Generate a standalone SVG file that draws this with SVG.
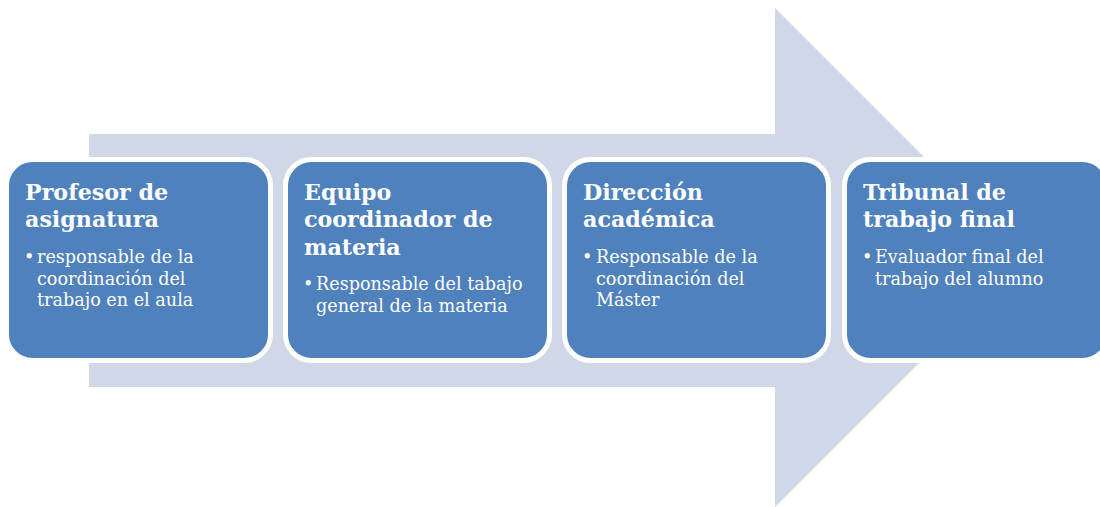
<svg xmlns="http://www.w3.org/2000/svg" width="1100" height="507" viewBox="0 0 1100 507">
<style>
.box{fill:#4f81bd;stroke:#ffffff;stroke-width:5}
.t{font-family:"DejaVu Serif",serif;font-weight:bold;font-size:22.2px;fill:#ffffff}
.b{font-family:"DejaVu Serif",serif;font-size:17.6px;fill:#ffffff}
</style>
<rect width="1100" height="507" fill="#ffffff"/>
<g id="arrow">
<polygon points="89,134 775,134 775,8 1024.5,257.5 775,507 775,387 89,387" fill="#d0d8e8"/>
</g>
<g id="connectors"></g>
<g id="node1">
<rect class="box" x="6.5" y="159.5" width="264" height="201" rx="26"/>
<text class="t" x="25" y="200">Profesor de</text>
<text class="t" x="25" y="227">asignatura</text>
<text class="b" x="24" y="263">•</text>
<text class="b" x="37" y="263">responsable de la</text>
<text class="b" x="37" y="285">coordinación del</text>
<text class="b" x="37" y="306">trabajo en el aula</text>
</g>
<g id="node2">
<rect class="box" x="285.5" y="159.5" width="264" height="201" rx="26"/>
<text class="t" x="304" y="200">Equipo</text>
<text class="t" x="304" y="227">coordinador de</text>
<text class="t" x="304" y="255">materia</text>
<text class="b" x="303" y="290">•</text>
<text class="b" x="316" y="290">Responsable del tabajo</text>
<text class="b" x="316" y="312">general de la materia</text>
</g>
<g id="node3">
<rect class="box" x="564.5" y="159.5" width="264" height="201" rx="26"/>
<text class="t" x="583" y="200">Dirección</text>
<text class="t" x="583" y="227">académica</text>
<text class="b" x="582" y="263">•</text>
<text class="b" x="596" y="263">Responsable de la</text>
<text class="b" x="596" y="285">coordinación del</text>
<text class="b" x="596" y="306">Máster</text>
</g>
<g id="node4">
<rect class="box" x="844.5" y="159.5" width="264" height="201" rx="26"/>
<text class="t" x="863" y="200">Tribunal de</text>
<text class="t" x="863" y="227">trabajo final</text>
<text class="b" x="862" y="263">•</text>
<text class="b" x="875" y="263">Evaluador final del</text>
<text class="b" x="875" y="285">trabajo del alumno</text>
</g>
</svg>
